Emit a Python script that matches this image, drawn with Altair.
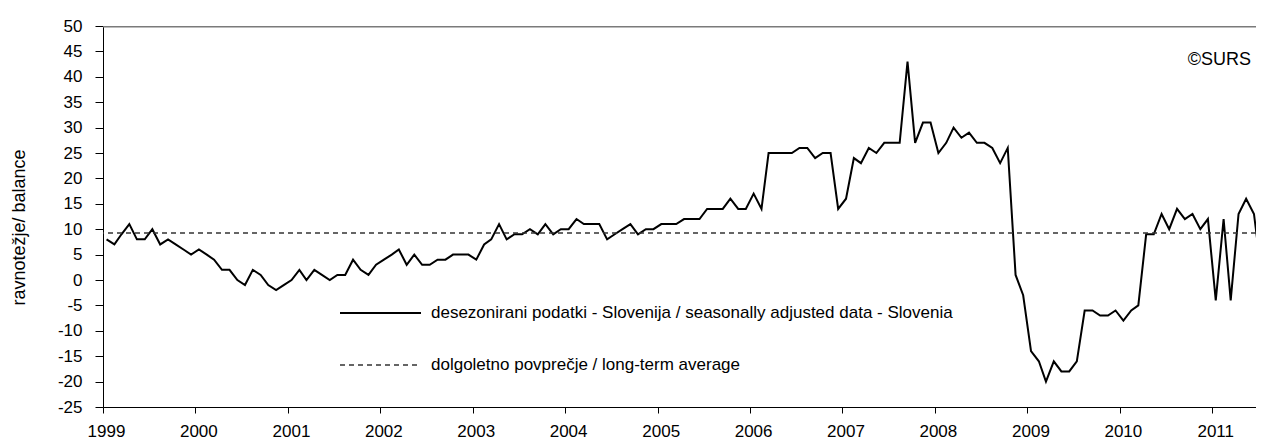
import altair as alt
import pandas as pd

# Monthly seasonally adjusted balance, Jan 1999 .. Jul 2011
start_month = "1999-01-01"
values = [
    8, 7, 9, 11, 8, 8, 10, 7, 8, 7, 6, 5,          # 1999
    6, 5, 4, 2, 2, 0, -1, 2, 1, -1, -2, -1,        # 2000
    0, 2, 0, 2, 1, 0, 1, 1, 4, 2, 1, 3,            # 2001
    4, 5, 6, 3, 5, 3, 3, 4, 4, 5, 5, 5,            # 2002
    4, 7, 8, 11, 8, 9, 9, 10, 9, 11, 9, 10,        # 2003
    10, 12, 11, 11, 11, 8, 9, 10, 11, 9, 10, 10,   # 2004
    11, 11, 11, 12, 12, 12, 14, 14, 14, 16, 14, 14,  # 2005
    17, 14, 25, 25, 25, 25, 26, 26, 24, 25, 25, 14,  # 2006
    16, 24, 23, 26, 25, 27, 27, 27, 43, 27, 31, 31,  # 2007
    25, 27, 30, 28, 29, 27, 27, 26, 23, 26, 1, -3,   # 2008
    -14, -16, -20, -16, -18, -18, -16, -6, -6, -7, -7, -6,  # 2009
    -8, -6, -5, 9, 9, 13, 10, 14, 12, 13, 10, 12,    # 2010
    -4, 12, -4, 13, 16, 13, 1,                       # 2011
]
long_term_average = [9.25]
y_ticks = list(range(-25, 55, 5))
x_years = list(range(1999, 2012))
y_title = "ravnotežje/ balance"
legend_labels = [
    "desezonirani podatki - Slovenija / seasonally adjusted data - Slovenia",
    "dolgoletno povprečje / long-term average",
]
copyright_text = "©SURS"

months = pd.date_range(start_month, periods=len(values), freq="MS") + pd.Timedelta(days=14)
df = pd.DataFrame({"date": months.strftime("%Y-%m-%d"), "value": values})
avg_df = pd.DataFrame({"avg": long_term_average})
one = pd.DataFrame({"a": [0]})

FONT = "Liberation Sans"

x_scale = alt.Scale(
    type="utc",
    domain=[alt.DateTime(year=1999, month=1, date=1, utc=True),
            alt.DateTime(year=2011, month=6, date=23, utc=True)],
)
y_scale = alt.Scale(domain=[min(y_ticks), max(y_ticks)], nice=False, zero=False)

y_axis = alt.Axis(
    values=y_ticks, tickCount=len(y_ticks) + 4, labelExpr="toString(datum.value)",
    grid=True, gridColor="#808080", gridWidth=1,
    gridOpacity={"condition": {"test": f"datum.value === {max(y_ticks)}", "value": 1}, "value": 0},
    tickSize=8, labelPadding=13, labelFontSize=17, labelFont=FONT,
    labelColor="black", domainColor="black", tickColor="black",
    labelOverlap=False, labelFlush=False,
    title=y_title, titleFont=FONT, titleFontSize=18, titleFontWeight="normal",
    titleColor="black", titleAngle=270, titleX=-84, titleY=201,
    titleAlign="center", titleBaseline="middle",
)

x_enc = alt.X(
    "date:T",
    scale=x_scale,
    axis=alt.Axis(
        values=[alt.DateTime(year=y, month=1, date=1, utc=True) for y in x_years],
        tickCount=len(x_years) + 4,
        format="%Y", formatType="utc", title=None, grid=False,
        tickSize=6, labelPadding=10, labelFontSize=17, labelFont=FONT,
        labelColor="black", domainColor="black", tickColor="black",
        labelFlush=False, labelOverlap=False, labelOffset=3,
    ),
)
y_enc = alt.Y("value:Q", scale=y_scale, axis=y_axis)

line = alt.Chart(df).mark_line(color="black", strokeWidth=2, clip=True).encode(
    x=x_enc, y=y_enc
)

avg_rule = alt.Chart(avg_df).mark_rule(
    color="#333333", strokeWidth=1.5, strokeDash=[5, 4]
).encode(y=alt.Y("avg:Q", scale=y_scale, axis=y_axis))

# gray top border of the plot area (thin filled band)
frame_top = alt.Chart(one).mark_rect(color="#7a7a7a", opacity=1).encode(
    x=alt.value(0), x2=alt.value(1153), y=alt.value(0), y2=alt.value(1.5)
)

leg_solid = alt.Chart(one).mark_rule(color="black", strokeWidth=2).encode(
    x=alt.value(237), x2=alt.value(318), y=alt.value(287)
)
leg_dash = alt.Chart(one).mark_rule(color="#333333", strokeWidth=1.5, strokeDash=[5, 4]).encode(
    x=alt.value(237), x2=alt.value(316), y=alt.value(339)
)
leg_text1 = alt.Chart(one).mark_text(
    text=legend_labels[0], align="left", baseline="middle",
    font=FONT, fontSize=17, color="black"
).encode(x=alt.value(328), y=alt.value(287))
leg_text2 = alt.Chart(one).mark_text(
    text=legend_labels[1], align="left", baseline="middle",
    font=FONT, fontSize=17, color="black"
).encode(x=alt.value(328), y=alt.value(339))
copy_text = alt.Chart(one).mark_text(
    text=copyright_text, align="right", baseline="middle",
    font=FONT, fontSize=18, color="black"
).encode(x=alt.value(1148), y=alt.value(34))

chart = alt.layer(
    line, avg_rule, frame_top, leg_solid, leg_dash, leg_text1, leg_text2, copy_text
).properties(
    width=1153, height=381,
    padding={"left": 95, "top": 18, "right": 0, "bottom": 33},
    autosize="none",
    background="white",
).configure_view(stroke=None)

chart.save("out.html", embed_options={"renderer": "svg", "actions": False})
